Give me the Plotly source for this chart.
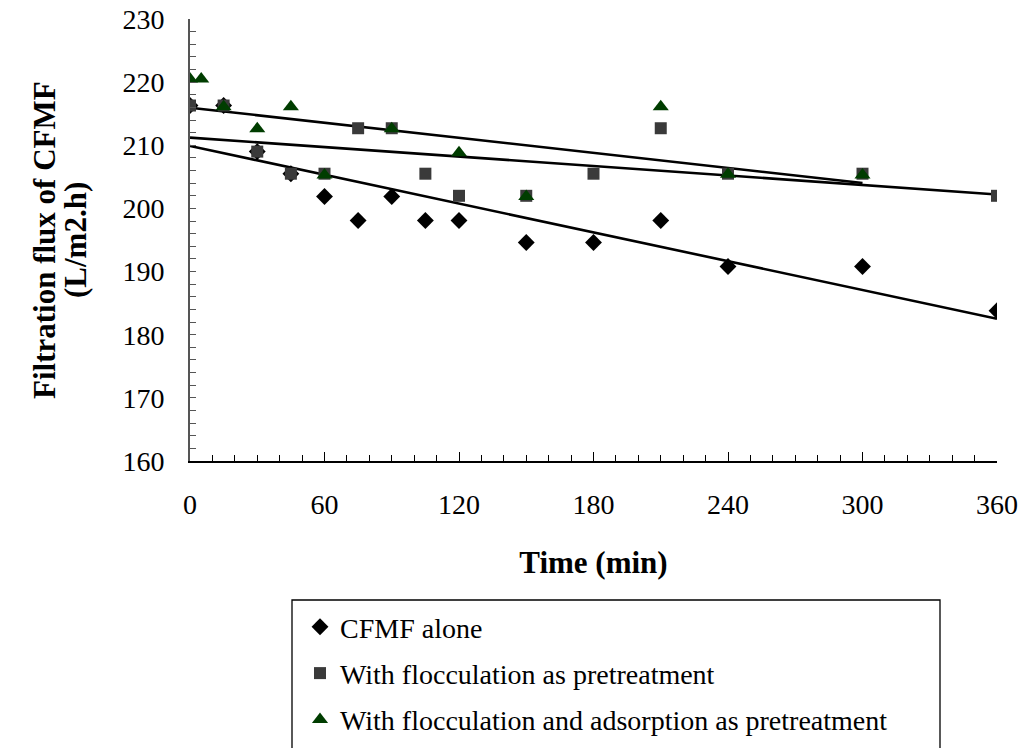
import numpy as np
import plotly.graph_objects as go

# Filtration flux (L/m2.h) versus time (min) for three treatment schemes
t_alone = [0, 15, 30, 45, 60, 75, 90, 105, 120, 150, 180, 210, 240, 300, 360]
flux_alone = [216.3, 216.3, 209.0, 205.5, 201.9, 198.1, 201.9, 198.1, 198.1,
              194.6, 194.6, 198.1, 190.8, 190.8, 183.8]

t_floc = [0, 15, 30, 45, 60, 75, 90, 105, 120, 150, 180, 210, 240, 300, 360]
flux_floc = [216.3, 216.3, 209.0, 205.5, 205.5, 212.7, 212.7, 205.5, 202.0,
             202.0, 205.5, 212.7, 205.5, 205.5, 202.0]

t_floc_ads = [0, 5, 15, 30, 45, 60, 90, 120, 150, 210, 240, 300]
flux_floc_ads = [220.5, 220.5, 216.1, 212.6, 216.1, 205.3, 212.6, 208.8,
                 201.9, 216.1, 205.4, 205.3]

names = ["CFMF alone",
         "With flocculation as pretreatment",
         "With flocculation and adsorption as pretreatment"]

FONT = "Liberation Serif, Times New Roman, serif"

fig = go.Figure()


def trend(t, y):
    """Least-squares linear trendline spanning the sampled time range."""
    k, b = np.polyfit(t, y, 1)
    xs = np.array([min(t), max(t)], dtype=float)
    return xs, k * xs + b


# trendlines first so markers sit on top
for t, y in [(t_alone, flux_alone), (t_floc, flux_floc), (t_floc_ads, flux_floc_ads)]:
    xs, ys = trend(t, y)
    fig.add_trace(go.Scatter(x=xs, y=ys, mode="lines",
                             line=dict(color="black", width=2.6),
                             showlegend=False, hoverinfo="skip"))

fig.add_trace(go.Scatter(x=t_alone, y=flux_alone, mode="markers", name=names[0],
                         legendgroup="a",
                         marker=dict(symbol="diamond", size=13, color="black")))
fig.add_trace(go.Scatter(x=t_floc, y=flux_floc, mode="markers", name=names[1],
                         legendgroup="b",
                         marker=dict(symbol="square", size=12, color="#3a3a3a")))
fig.add_trace(go.Scatter(x=t_floc_ads, y=flux_floc_ads, mode="markers", name=names[2],
                         legendgroup="c",
                         marker=dict(symbol="triangle-up", size=14, color="#003d00")))

L, R, T, B = 190, 29, 19, 287
W, H = 1026, 748
pw, ph = W - L - R, H - T - B


def px_x(px):
    return (px - L) / pw


def px_y(py):
    return (H - B - py) / ph


# legend frame
fig.add_shape(type="rect", xref="paper", yref="paper",
              x0=px_x(292), x1=px_x(940), y0=px_y(760), y1=px_y(600),
              line=dict(color="black", width=1.3), fillcolor="rgba(0,0,0,0)")

# y-axis title, two rotated lines
for txt, xc in [("<b>Filtration flux of CFMF</b>", 44), ("<b>(L/m2.h)</b>", 75)]:
    fig.add_annotation(text=txt, xref="paper", yref="paper",
                       x=px_x(xc), y=0.5, xanchor="center", yanchor="middle",
                       textangle=-90, showarrow=False,
                       font=dict(family=FONT, size=31, color="black"))

fig.update_layout(
    width=W, height=H,
    margin=dict(l=L, r=R, t=T, b=B, autoexpand=False),
    paper_bgcolor="white", plot_bgcolor="white",
    font=dict(family=FONT, color="black", size=28),
    xaxis=dict(range=[0, 360], tickvals=[0, 60, 120, 180, 240, 300, 360],
               ticks="inside", ticklen=9, tickwidth=1.3, tickcolor="black",
               minor=dict(dtick=10, ticks="inside", ticklen=6, tickcolor="black", tickwidth=1),
               showline=True, linecolor="black", linewidth=1.6,
               showgrid=False, zeroline=False, automargin=False,
               tickfont=dict(size=28), ticklabelstandoff=18,
               title=dict(text="<b>Time (min)</b>", font=dict(size=31), standoff=32)),
    yaxis=dict(range=[160, 230], dtick=10,
               ticks="inside", ticklen=6, tickwidth=1.2, tickcolor="#555555",
               minor=dict(dtick=2, ticks="inside", ticklen=6, tickcolor="#555555", tickwidth=1),
               showline=True, linecolor="#555555", linewidth=1.6,
               showgrid=False, zeroline=False, automargin=False,
               tickfont=dict(size=28), ticklabelstandoff=18),
    legend=dict(xref="container", yref="container",
                x=300 / W, y=1 - 602 / H, xanchor="left", yanchor="top",
                bgcolor="rgba(0,0,0,0)", borderwidth=0,
                font=dict(family=FONT, size=28),
                traceorder="grouped", tracegroupgap=7, itemwidth=30),
)

fig.write_html("out.html")
